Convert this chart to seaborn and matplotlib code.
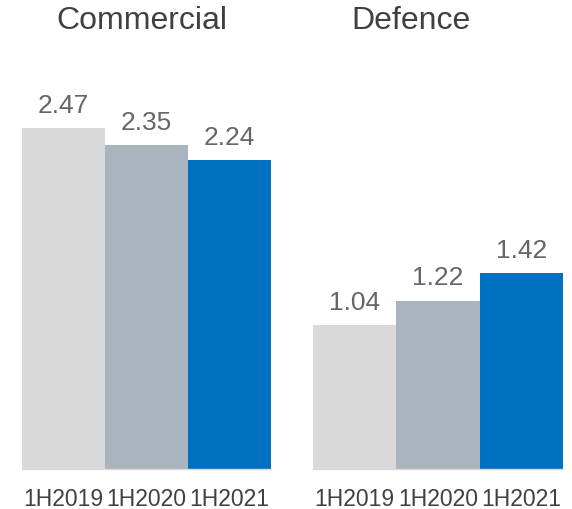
import pandas as pd
import seaborn as sns
import matplotlib.pyplot as plt

# data
periods = ["1H2019", "1H2020", "1H2021"]
commercial = [2.47, 2.35, 2.24]
defence = [1.04, 1.22, 1.42]
groups = ["Commercial", "Defence"]
bar_colors = ["#D9D9D9", "#A9B4BE", "#0070C0"]

sns.set_style("white")
plt.rcParams["font.family"] = ["Liberation Sans", "DejaVu Sans"]

fig = plt.figure(figsize=(5.72, 5.10), dpi=100)
ax_positions = [[0.0385, 0.0784, 0.4355, 0.812], [0.547, 0.0784, 0.437, 0.812]]
title_x = [0.248, 0.719]

for pos, name, vals, tx in zip(ax_positions, groups, [commercial, defence], title_x):
    ax = fig.add_axes(pos)
    df = pd.DataFrame({"period": periods, "value": vals})
    sns.barplot(data=df, x="period", y="value", hue="period", palette=bar_colors,
                width=1.0, saturation=1, linewidth=0, legend=False, ax=ax)
    ax.set_xlim(-0.5, 2.5)
    ax.set_ylim(0, 3.0)
    for bar, v in zip(ax.patches, vals):
        ax.annotate(f"{v:.2f}", (bar.get_x() + bar.get_width() / 2, bar.get_height()),
                    xytext=(0, 8), textcoords="offset points", ha="center", va="bottom",
                    fontsize=19, color="#666666")
    ax.set_xlabel("")
    ax.set_ylabel("")
    ax.set_yticks([])
    ax.tick_params(axis="x", length=0, labelsize=16.5, labelcolor="#404040", pad=13)
    for side in ["top", "left", "right"]:
        ax.spines[side].set_visible(False)
    ax.spines["bottom"].set_color("#D9D9D9")
    ax.spines["bottom"].set_linewidth(1)
    fig.text(tx, 0.958, name, ha="center", va="center", fontsize=23, color="#404040")

plt.savefig("out.png", dpi=100)
